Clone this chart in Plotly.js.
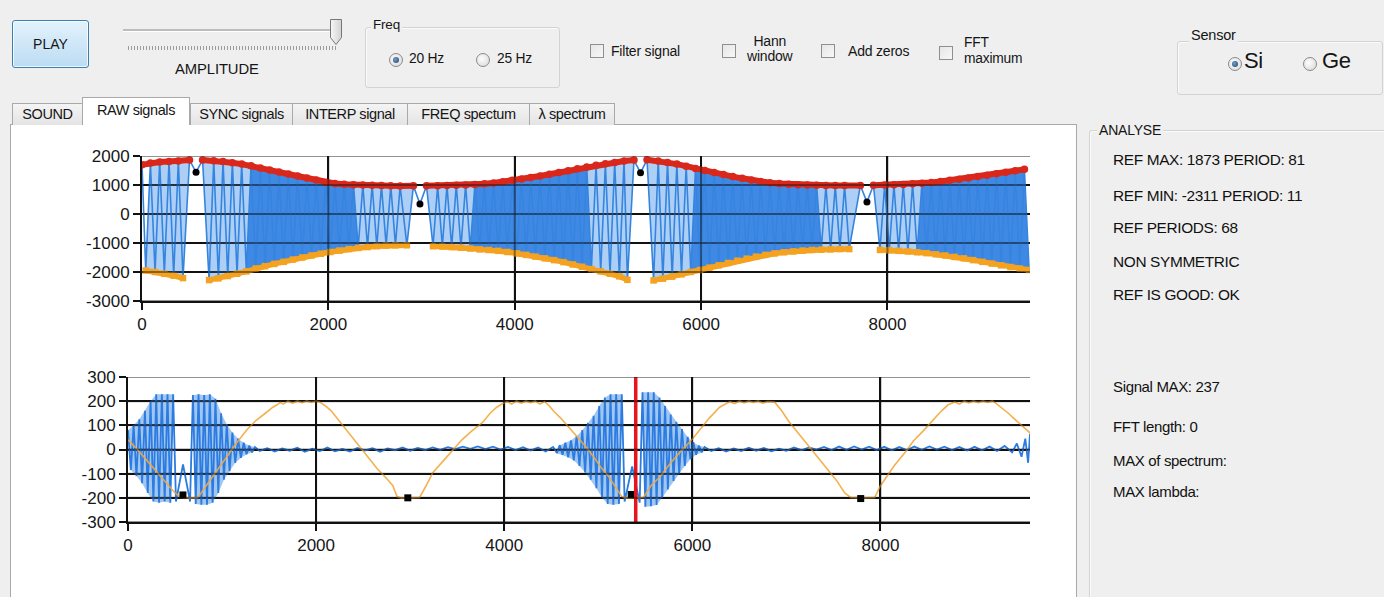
<!DOCTYPE html>
<html><head><meta charset="utf-8">
<script src="https://cdn.plot.ly/plotly-3.0.1.min.js"></script>
<style>
body{margin:0;width:1384px;height:597px;overflow:hidden;background:#efefef;font-family:"Liberation Sans",Arial,sans-serif;color:#151515;position:relative}
.a{position:absolute;white-space:nowrap}
.t{font-size:14px;letter-spacing:-0.2px}
.btn{position:absolute;box-sizing:border-box;border:1px solid #3c7fb1;border-radius:3px;background:linear-gradient(#e3f2fc,#bcdcf3);box-shadow:inset 0 0 0 1px rgba(255,255,255,0.75);font-size:14px;display:flex;align-items:center;justify-content:center}
.grp{position:absolute;box-sizing:border-box;border:1px solid #d3d3d3;border-radius:3px;box-shadow:inset 1px 1px 0 #fafafa}
.gt{position:absolute;background:#efefef;padding:0 2px;font-size:13.5px;letter-spacing:-0.2px}
.rb{position:absolute;width:12px;height:12px;border-radius:50%;border:1px solid #8a8a8a;background:radial-gradient(circle at 40% 40%,#fdfdfd,#d6d6d6)}
.rb.on::after{content:"";position:absolute;left:3px;top:3px;width:6px;height:6px;border-radius:50%;background:radial-gradient(circle at 40% 40%,#6fa0c8,#1d3f66)}
.cb{position:absolute;width:12px;height:12px;border:1px solid #8e8f8f;background:linear-gradient(135deg,#e6e6e6,#f7f7f7)}
.tab{position:absolute;box-sizing:border-box;top:103px;height:22px;border:1px solid #a9a9a9;border-bottom:none;background:linear-gradient(#f4f4f4,#e4e4e4);font-size:14.5px;letter-spacing:-0.4px;text-align:center;line-height:20px}
.tab.sel{top:97px;height:28px;background:#fff;line-height:24px;z-index:2}
.info{position:absolute;left:1113px;font-size:15.4px;letter-spacing:-0.35px;white-space:nowrap;color:#111}
</style></head>
<body>
<!-- top control strip -->
<div class="btn" style="left:12px;top:20px;width:77px;height:48px">PLAY</div>
<div class="a" style="left:123px;top:29px;width:213px;height:2px;background:#bdbdbd;border-bottom:1px solid #fff"></div>
<div class="a" style="left:128px;top:46px;width:208px;height:4px;background:repeating-linear-gradient(90deg,#9c9c9c 0 1px,transparent 1px 3px)"></div>
<svg class="a" style="left:329px;top:18px" width="15" height="29"><defs><linearGradient id="th" x1="0" x2="1"><stop offset="0" stop-color="#f7f7f7"/><stop offset="1" stop-color="#d2d2d2"/></linearGradient></defs><path d="M1.5,1.5 h11 v18 l-5.5,7 l-5.5,-7 z" fill="url(#th)" stroke="#767676"/></svg>
<div class="a t" style="left:175px;top:61px;font-size:14.8px;letter-spacing:-0.1px">AMPLITUDE</div>

<div class="grp" style="left:365px;top:27px;width:195px;height:61px"></div>
<div class="gt" style="left:371px;top:17px">Freq</div>
<div class="rb on" style="left:389px;top:53px"></div>
<div class="a t" style="left:409px;top:51px;font-size:13.8px">20 Hz</div>
<div class="rb" style="left:476px;top:53px"></div>
<div class="a t" style="left:497px;top:51px;font-size:13.8px">25 Hz</div>

<div class="cb" style="left:590px;top:44px"></div>
<div class="a t" style="left:611px;top:43px">Filter signal</div>
<div class="cb" style="left:722px;top:44px"></div>
<div class="a t" style="left:747px;top:34px;font-size:14px;line-height:15px;text-align:center">Hann<br>window</div>
<div class="cb" style="left:821px;top:44px"></div>
<div class="a t" style="left:848px;top:43px">Add zeros</div>
<div class="cb" style="left:939px;top:46px"></div>
<div class="a t" style="left:964px;top:35px;font-size:13.8px;line-height:16px">FFT<br>maximum</div>

<div class="grp" style="left:1177px;top:41px;width:206px;height:54px"></div>
<div class="gt" style="left:1189px;top:27px;font-size:14.5px">Sensor</div>
<div class="rb on" style="left:1228px;top:57px"></div>
<div class="a" style="left:1244px;top:48px;font-size:22px;letter-spacing:-0.3px">Si</div>
<div class="rb" style="left:1303px;top:57px"></div>
<div class="a" style="left:1322px;top:48px;font-size:22px;letter-spacing:-0.3px">Ge</div>

<!-- tabs -->
<div class="a" style="left:10px;top:124px;width:1067px;height:480px;background:#fff;border:1px solid #a9a9a9;box-sizing:border-box"></div>
<div class="tab" style="left:12px;width:71px">SOUND</div>
<div class="tab sel" style="left:82px;width:108px">RAW signals</div>
<div class="tab" style="left:190px;width:103px">SYNC signals</div>
<div class="tab" style="left:292px;width:116px">INTERP signal</div>
<div class="tab" style="left:407px;width:123px">FREQ spectum</div>
<div class="tab" style="left:529px;width:86px">λ spectrum</div>

<!-- analyse panel -->
<div class="grp" style="left:1089px;top:130px;width:300px;height:480px"></div>
<div class="gt" style="left:1097px;top:122px;font-size:14px">ANALYSE</div>
<div class="info" style="top:151px">REF MAX: 1873 PERIOD: 81</div>
<div class="info" style="top:187px">REF MIN: -2311 PERIOD: 11</div>
<div class="info" style="top:219px">REF PERIODS: 68</div>
<div class="info" style="top:253px">NON SYMMETRIC</div>
<div class="info" style="top:286px">REF IS GOOD: OK</div>
<div class="info" style="top:378px;font-size:15px">Signal MAX: 237</div>
<div class="info" style="top:418px;font-size:15px">FFT length: 0</div>
<div class="info" style="top:452px;font-size:15px">MAX of spectrum:</div>
<div class="info" style="top:483px;font-size:15px">MAX lambda:</div>

<div id="chart" style="position:absolute;left:0;top:0;width:1384px;height:597px;z-index:5"></div>
<script>
// ===== TOP CHART: reference signal, detected maxima / minima / sync dips =====
const topMaxX = [0,90,190,290,390,510,650,
 770,870,970,1070,1170,1270,1370,1470,1570,1670,1770,1870,1970,2070,2170,2270,2370,2470,2570,2670,2770,2913,3053,
 3173,3273,3373,3473,3573,3673,3773,3873,3973,4073,4173,4273,4373,4473,4573,4673,4773,4873,4973,5073,5173,5280,5420,
 5540,5640,5740,5840,5940,6040,6140,6240,6340,6440,6540,6640,6740,6840,6940,7040,7140,7240,7340,7440,7540,7710,7850,
 7970,8070,8170,8270,8370,8470,8570,8670,8770,8870,8970,9070,9170,9270,9370,9470];
const topMaxY = [1700,1760,1790,1810,1830,1860,1860,
 1840,1810,1770,1720,1660,1590,1520,1450,1380,1310,1240,1170,1090,1050,1030,1010,1000,990,980,970,965,970,970,
 975,980,990,1000,1020,1040,1070,1110,1160,1210,1260,1310,1370,1430,1490,1560,1620,1680,1730,1780,1830,1860,1870,
 1830,1780,1720,1650,1570,1500,1430,1360,1290,1230,1170,1120,1080,1050,1030,1010,1000,990,985,980,980,985,990,
 1000,1010,1020,1040,1060,1090,1120,1160,1200,1240,1290,1340,1390,1440,1490,1540];
const topMinX = [40,140,240,340,440,
 720,820,920,1020,1120,1220,1320,1420,1520,1620,1720,1820,1920,2020,2120,2220,2320,2420,2520,2620,2720,2843,
 3123,3223,3323,3423,3523,3623,3723,3823,3923,4023,4123,4223,4323,4423,4523,4623,4723,4823,4923,5023,5123,5210,
 5490,5590,5690,5790,5890,5990,6090,6190,6290,6390,6490,6590,6690,6790,6890,6990,7090,7190,7290,7390,7490,7590,
 7920,8020,8120,8220,8320,8420,8520,8620,8720,8820,8920,9020,9120,9220,9320,9420,9520];
const topMinY = [-1950,-2000,-2060,-2130,-2210,
 -2280,-2220,-2140,-2060,-1980,-1880,-1800,-1720,-1650,-1570,-1500,-1430,-1370,-1310,-1260,-1210,-1170,-1140,-1110,-1090,-1080,-1080,
 -1110,-1120,-1140,-1160,-1190,-1220,-1240,-1270,-1310,-1360,-1410,-1470,-1530,-1590,-1660,-1740,-1820,-1900,-1980,-2060,-2150,-2270,
 -2290,-2230,-2160,-2080,-2000,-1930,-1850,-1770,-1690,-1610,-1540,-1470,-1410,-1360,-1320,-1290,-1260,-1240,-1230,-1220,-1210,-1210,
 -1240,-1250,-1270,-1290,-1320,-1350,-1390,-1430,-1480,-1530,-1590,-1650,-1710,-1770,-1830,-1880,-1930];
const topSyncX = [580, 2983, 5350, 7780];
const topSyncY = [1440, 345, 1420, 410];
const topDenseFrom = [1100, 3500, 5860, 8300];
const topDenseTo   = [2350, 4850, 7330, 9530];
const topXTicks = [0, 2000, 4000, 6000, 8000];
const topYTicks = [-3000, -2000, -1000, 0, 1000, 2000];

// ===== BOTTOM CHART: measured signal, reference phase, sync marks =====
const botSigX = [0,30,60,90,120,150,180,210,240,270,300,330,360,390,420,450,480,510,585,660,690,720,750,780,810,840,870,900,930,960,990,1020,1050,1080,1110,1140,1170,1200,1230,1260,1290,1320,1350,
 1400,1480,1560,1640,1720,1800,1880,1960,2040,2120,2200,2280,2360,2440,2520,2600,2680,2760,2840,2920,3000,3080,3160,3240,3320,3400,3480,3560,3640,3720,3800,3880,3960,4040,4120,4200,4280,4360,4440,4520,
 4560,4590,4620,4650,4680,4710,4740,4770,4800,4830,4860,4890,4920,4950,4980,5010,5040,5070,5100,5130,5160,5190,5220,5250,5280,5360,5440,5470,5500,5530,5560,5590,5620,5650,5680,5710,5740,5770,5800,5830,5860,5890,5920,5950,5980,6010,6040,6070,6100,6130,
 6200,6280,6360,6440,6520,6600,6680,6760,6840,6920,7000,7080,7160,7240,7320,7400,7480,7560,7640,7720,7800,7880,7960,8040,8120,8200,8280,8360,8440,8520,8600,8680,8760,8840,8920,9000,9080,9160,9240,9320,9400,9450,9500,9540,9570,9590];
const botSigY = [80,-85,100,-110,125,-140,160,-180,200,-215,229,-220,229,-215,229,-220,229,-215,-62,-215,225,-225,229,-229,225,-229,229,-220,210,-180,150,-125,105,-90,70,-55,45,-35,28,-20,16,-12,10,
 -6,5,-8,4,-5,7,-9,3,-6,8,-7,2,-8,6,-4,5,-9,4,-3,8,-5,6,-2,9,-1,10,2,12,3,13,2,12,0,11,-2,9,-4,8,-8,10,
 -15,18,-22,28,-32,38,-45,55,-68,80,-95,110,-125,140,-160,180,-200,215,-225,229,-229,229,-225,229,-215,-70,-220,237,-237,237,-235,237,-230,215,-200,180,-165,145,-130,115,-100,85,-68,52,-40,30,-22,16,-12,10,
 -6,5,-8,4,-6,7,-5,6,-7,3,-5,8,-3,9,0,11,-2,12,-1,13,0,12,-2,11,-3,10,-2,12,-1,13,0,12,-2,10,-4,11,-3,12,-6,15,-12,25,-30,45,-55,65];
const botBurstFrom = [0, 690, 4560, 5470];
const botBurstTo   = [480, 1350, 5250, 6130];
const botRefX = [0,100,200,300,400,500,560,600,650,700,745,850,950,1050,1160,1260,1360,1460,1540,1585,1620,1650,1700,1750,1800,1850,1900,1950,2000,2040,2100,2160,2220,2300,2400,2465,2550,2650,2750,2816,2860,2900,3000,3100,3170,3240,3350,3455,3550,3650,3770,3850,3920,3985,4030,4080,4130,4180,4230,4280,4330,4380,4430,4480,4527,4600,4700,4800,4857,4950,5030,5110,5180,5250,5300,5400,5480,5560,5660,5760,5860,5990,6080,6180,6290,6350,6400,6450,6500,6550,6600,6650,6700,6750,6800,6875,6950,7024,7100,7200,7280,7380,7450,7535,7620,7683,7800,7940,8000,8055,8150,8270,8350,8450,8565,8650,8720,8790,8840,8890,8940,8990,9040,9090,9140,9190,9225,9300,9360,9415,9500,9595];
const botRefY = [40,0,-45,-90,-135,-180,-198,-200,-200,-200,-198,-140,-85,-30,30,80,120,150,175,185,195,188,200,192,200,194,200,195,200,196,180,160,130,90,42,8,-35,-80,-120,-150,-195,-200,-200,-198,-150,-96,-48,0,40,75,112,150,175,190,198,188,200,192,200,194,200,188,198,180,158,130,85,40,17,-30,-75,-112,-155,-195,-200,-200,-198,-150,-112,-60,-15,38,80,130,175,188,198,190,200,193,200,195,200,192,198,196,160,117,80,30,-8,-55,-90,-129,-180,-198,-200,-198,-150,-117,-65,-8,35,75,125,160,185,196,188,200,193,200,194,200,195,200,192,170,150,130,100,67];
const botSyncX = [584, 2975, 5350, 7790];
const botSyncY = [-188, -200, -186, -203];
const botCursorX = [5398, 5398];
const botCursorY = [-300, 300];
const botXTicks = [0, 2000, 4000, 6000, 8000];
const botYTicks = [-300, -200, -100, 0, 100, 200, 300];

// ---------- build traces ----------
function withSyncBreaks(xs, ys, syncs){
  const ox=[], oy=[];
  for(let i=0;i<xs.length;i++){
    if(i>0 && syncs.some(s=>s>xs[i-1] && s<xs[i])){ox.push(null);oy.push(null);}
    ox.push(xs[i]); oy.push(ys[i]);
  }
  return {x:ox,y:oy};
}
function band(upX,upY,loX,loY,a,b,color,xa,ya){
  const ux=[],uy=[],lx=[],ly=[];
  upX.forEach((x,i)=>{if(x>=a&&x<=b){ux.push(x);uy.push(upY[i]);}});
  loX.forEach((x,i)=>{if(x>=a&&x<=b){lx.push(x);ly.push(loY[i]);}});
  return {type:'scatter',mode:'lines',x:ux.concat(lx.reverse()),y:uy.concat(ly.reverse()),fill:'toself',fillcolor:color,line:{width:0},xaxis:xa,yaxis:ya,hoverinfo:'skip'};
}
const topPts=[];
topMaxX.forEach((x,i)=>topPts.push([x,topMaxY[i]]));
topMinX.forEach((x,i)=>topPts.push([x,topMinY[i]]));
topSyncX.forEach((x,i)=>topPts.push([x,topSyncY[i]]));
topPts.sort((a,b)=>a[0]-b[0]);

const traces=[];
const segEdges=[0].concat(topSyncX,[9530]);
for(let k=0;k<segEdges.length-1;k++){
  traces.push(band(topMaxX,topMaxY,topMinX,topMinY,segEdges[k]+1,segEdges[k+1]-1,'rgba(74,148,232,0.45)','x','y'));
}
topDenseFrom.forEach((a,k)=>traces.push(band(topMaxX,topMaxY,topMinX,topMinY,a,topDenseTo[k],'rgba(44,124,224,0.85)','x','y')));
traces.push({type:'scatter',mode:'lines',x:topPts.map(p=>p[0]),y:topPts.map(p=>p[1]),line:{color:'#3585e0',width:1.6},xaxis:'x',yaxis:'y'});
const rb=withSyncBreaks(topMaxX,topMaxY,topSyncX);
traces.push({type:'scatter',mode:'lines+markers',x:rb.x,y:rb.y,line:{color:'#d9281b',width:6},marker:{color:'#d9281b',size:7.5,symbol:'circle'},xaxis:'x',yaxis:'y'});
const ob=withSyncBreaks(topMinX,topMinY,topSyncX);
traces.push({type:'scatter',mode:'lines+markers',x:ob.x,y:ob.y,line:{color:'#f4a21f',width:5.5},marker:{color:'#f4a21f',size:6.5,symbol:'square'},xaxis:'x',yaxis:'y'});
traces.push({type:'scatter',mode:'markers',x:topSyncX,y:topSyncY,marker:{color:'#000',size:7,symbol:'circle'},xaxis:'x',yaxis:'y'});

const posX=[],posY=[],negX=[],negY=[];
botSigX.forEach((x,i)=>{ if(botSigY[i]>0){posX.push(x);posY.push(botSigY[i]);} else {negX.push(x);negY.push(botSigY[i]);} });
botBurstFrom.forEach((a,k)=>traces.push(band(posX,posY,negX,negY,a,botBurstTo[k],'rgba(66,142,230,0.5)','x2','y2')));
traces.push({type:'scatter',mode:'lines',x:botSigX,y:botSigY,line:{color:'#2c7be0',width:1.8},xaxis:'x2',yaxis:'y2'});
traces.push({type:'scatter',mode:'lines',x:botRefX,y:botRefY,line:{color:'#f3a93c',width:1.6},opacity:0.9,xaxis:'x2',yaxis:'y2'});
traces.push({type:'scatter',mode:'markers',x:botSyncX,y:botSyncY,marker:{color:'#000',size:7,symbol:'square'},xaxis:'x2',yaxis:'y2'});
traces.push({type:'scatter',mode:'lines',x:botCursorX,y:botCursorY,line:{color:'#e8141c',width:3.5},xaxis:'x2',yaxis:'y2'});

const F={family:'Liberation Sans, Arial, sans-serif',size:17,color:'#161616'};
const axBase={showline:true,linecolor:'#111',linewidth:2,showgrid:true,gridcolor:'#111',gridwidth:2,zeroline:false,ticks:'outside',ticklen:7,tickwidth:2,tickcolor:'#111',tickfont:F,fixedrange:true,automargin:false};
const shapes=[];
function gridShapes(xt,yt,xr,yr){
  yt.forEach(v=>shapes.push({type:'line',xref:xr+' domain',x0:0,x1:1,yref:yr,y0:v,y1:v,line:{color:'#111',width:2},opacity:0.45,layer:'above'}));
  xt.forEach(v=>{ if(v>0) shapes.push({type:'line',xref:xr,x0:v,x1:v,yref:yr+' domain',y0:0,y1:1,line:{color:'#111',width:2},opacity:0.45,layer:'above'});});
}
gridShapes(topXTicks,topYTicks,'x','y');
gridShapes(botXTicks,botYTicks,'x2','y2');

const layout={
  width:1384,height:597,margin:{l:0,r:0,t:0,b:0,pad:0},
  paper_bgcolor:'rgba(0,0,0,0)',plot_bgcolor:'#ffffff',showlegend:false,
  xaxis:Object.assign({},axBase,{domain:[142/1384,1030/1384],range:[0,9530],anchor:'y',tickmode:'array',tickvals:topXTicks,ticktext:topXTicks.map(String)}),
  yaxis:Object.assign({},axBase,{domain:[1-301/597,1-156/597],range:[-3000,2000],anchor:'x',tickmode:'array',tickvals:topYTicks,ticktext:topYTicks.map(String)}),
  xaxis2:Object.assign({},axBase,{domain:[128/1384,1030/1384],range:[0,9590],anchor:'y2',tickmode:'array',tickvals:botXTicks,ticktext:botXTicks.map(String)}),
  yaxis2:Object.assign({},axBase,{domain:[1-522/597,1-377/597],range:[-300,300],anchor:'x2',tickmode:'array',tickvals:botYTicks,ticktext:botYTicks.map(String)}),
  shapes:shapes
};
Plotly.newPlot('chart',traces,layout,{staticPlot:true,displayModeBar:false});
</script>
</body></html>
